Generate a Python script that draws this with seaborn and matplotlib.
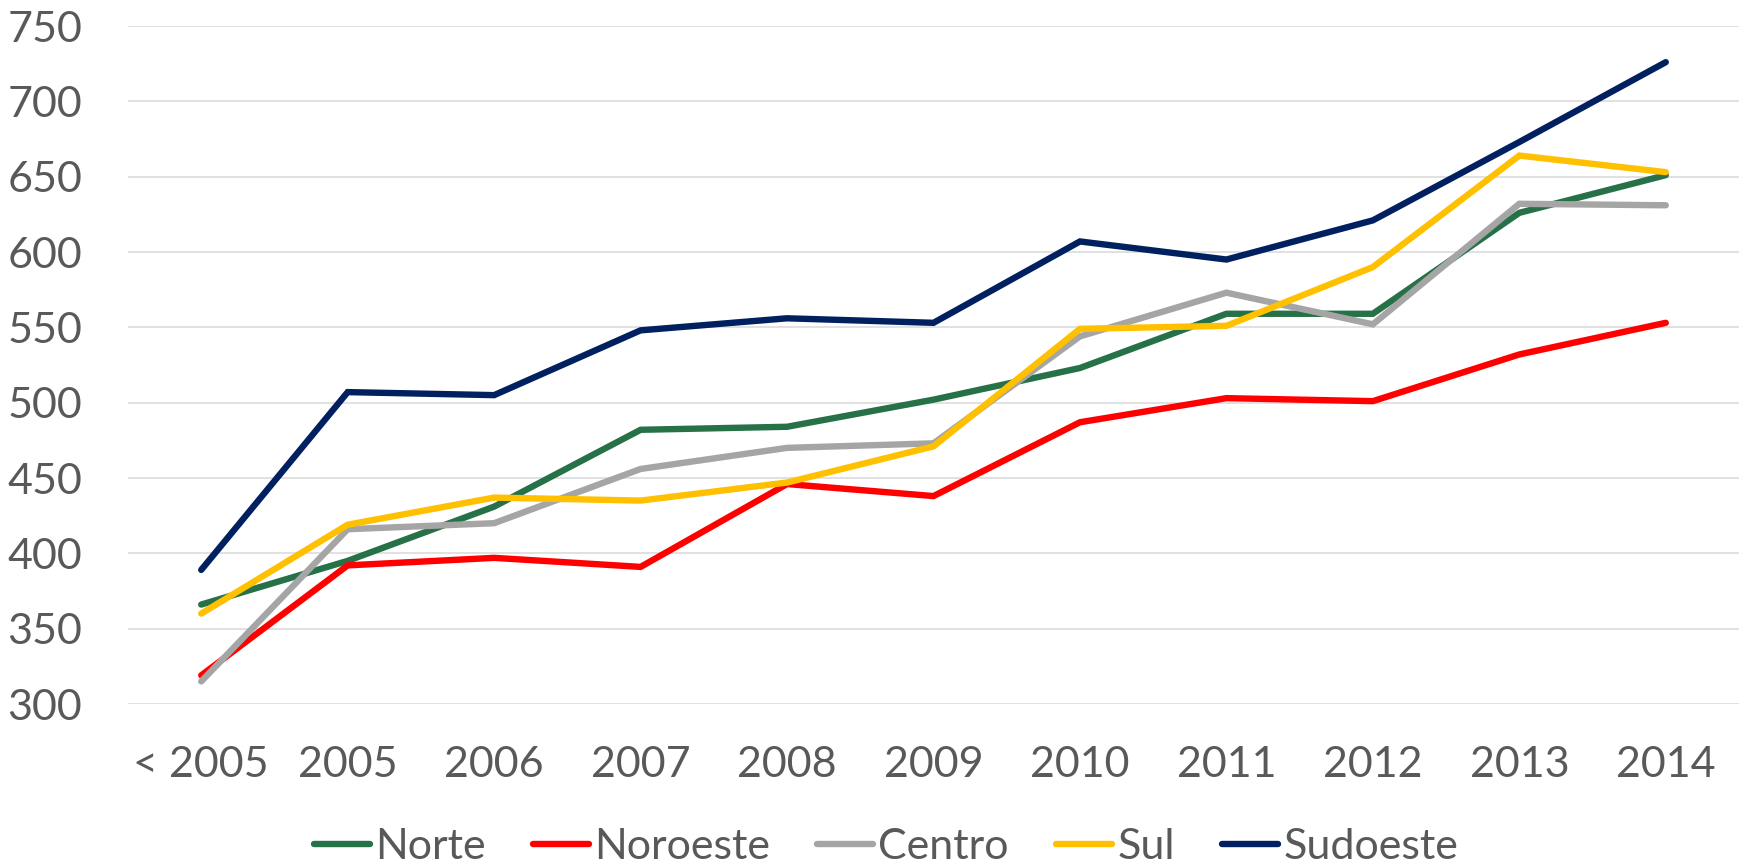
import matplotlib
matplotlib.use("Agg")
import matplotlib.pyplot as plt
import seaborn as sns
import pandas as pd

categories = ["< 2005", "2005", "2006", "2007", "2008", "2009", "2010", "2011", "2012", "2013", "2014"]
norte    = [366, 395, 431, 482, 484, 502, 523, 559, 559, 626, 651]
noroeste = [319, 392, 397, 391, 446, 438, 487, 503, 501, 532, 553]
centro   = [315, 416, 420, 456, 470, 473, 544, 573, 552, 632, 631]
sul      = [360, 419, 437, 435, 447, 471, 549, 551, 590, 664, 653]
sudoeste = [389, 507, 505, 548, 556, 553, 607, 595, 621, 673, 726]

series_names = ["Norte", "Noroeste", "Centro", "Sul", "Sudoeste"]
series_values = [norte, noroeste, centro, sul, sudoeste]
colors = ["#277148", "#FF0000", "#A5A5A5", "#FFC000", "#002060"]
yticks = [300, 350, 400, 450, 500, 550, 600, 650, 700, 750]

rows = []
for name, vals in zip(series_names, series_values):
    for i, (c, v) in enumerate(zip(categories, vals)):
        rows.append({"pos": i, "cat": c, "value": v, "serie": name})
df = pd.DataFrame(rows)

sns.set_theme(style="white")
plt.rcParams["font.family"] = ["Lato", "DejaVu Sans"]

fig = plt.figure(figsize=(17.6, 8.68), dpi=100)
ax = fig.add_axes([128 / 1760, 1 - 704 / 868, (1739 - 128) / 1760, (704 - 26) / 868])

sns.lineplot(data=df, x="pos", y="value", hue="serie", hue_order=series_names,
             palette=colors, linewidth=4.6, sort=False, ax=ax,
             solid_capstyle="round", solid_joinstyle="miter")

ax.set_xlim(-0.5, len(categories) - 0.5)
ax.set_ylim(300, 750)
ax.set_xticks(range(len(categories)))
ax.set_xticklabels(categories)
ax.set_yticks(yticks)
ax.set_xlabel("")
ax.set_ylabel("")
ax.grid(axis="y", color="#D9D9D9", linewidth=1.1)
ax.set_axisbelow(True)
for s in ax.spines.values():
    s.set_visible(False)
ax.tick_params(axis="both", length=0, labelsize=31, colors="#595959")
ax.tick_params(axis="y", pad=33)
ax.tick_params(axis="x", pad=30)

handles, labels = ax.get_legend_handles_labels()
ax.get_legend().remove()
for h in handles:
    h.set_linewidth(4.6)
    h.set_solid_capstyle("round")
leg = fig.legend(handles, labels, loc="center", bbox_to_anchor=(886 / 1760, 1 - 847 / 868),
                 ncol=5, frameon=False, fontsize=31, handlelength=1.3, handletextpad=0.12,
                 columnspacing=1.1, borderaxespad=0)
for t in leg.get_texts():
    t.set_color("#595959")

fig.savefig("out.png", dpi=100)
